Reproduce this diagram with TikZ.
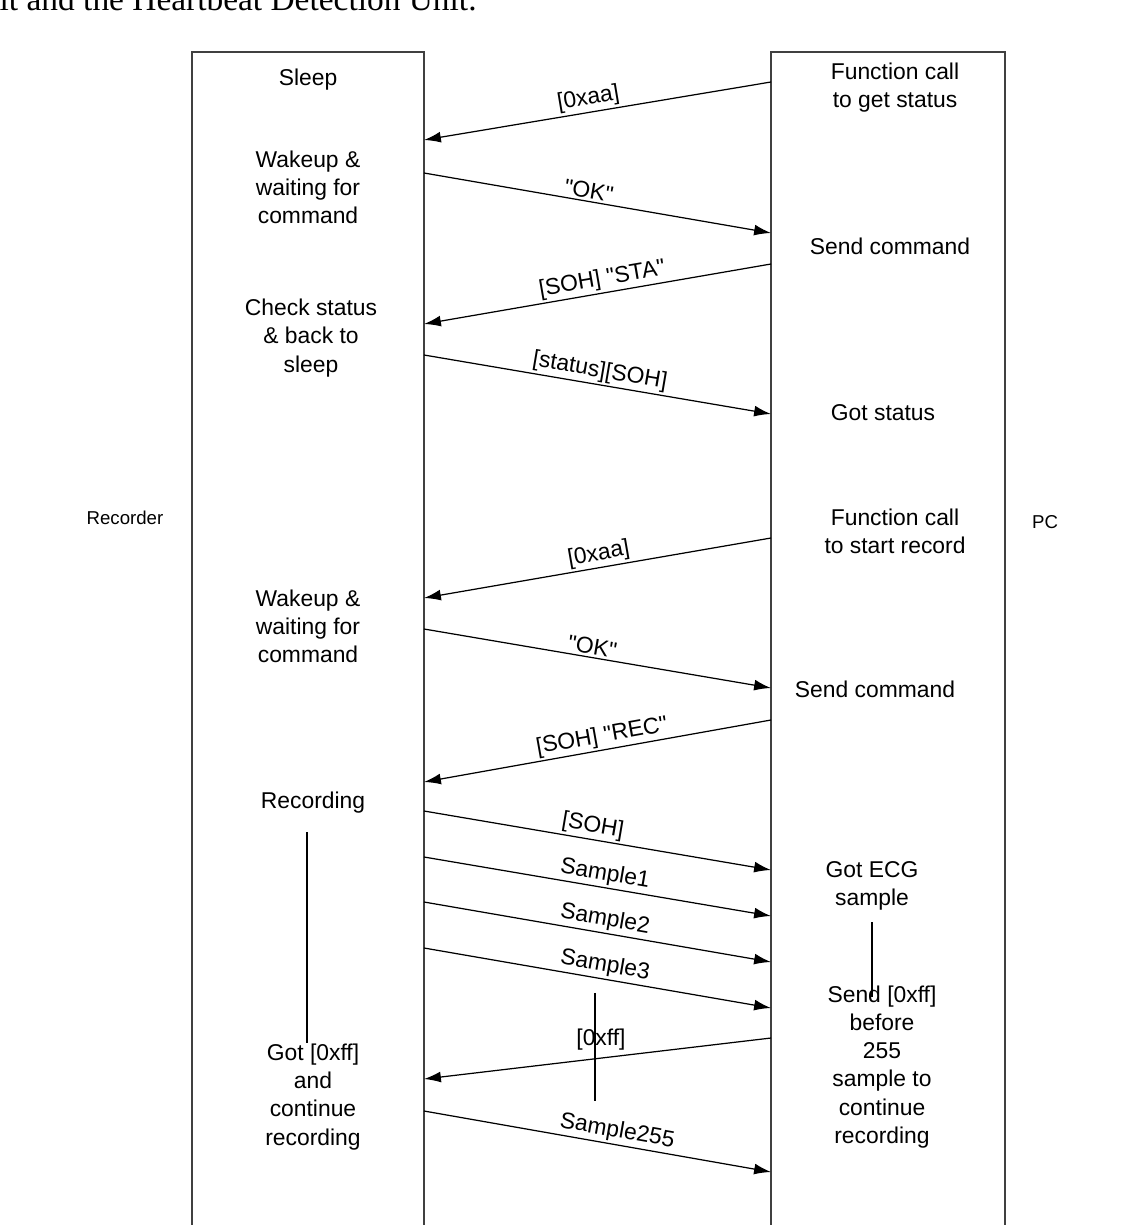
\documentclass[tikz,border=0pt]{standalone}
\usepackage{fontspec}
\setmainfont{Liberation Sans}
\newfontfamily\capfont{Liberation Serif}
\usetikzlibrary{arrows.meta}

\newcommand{\qt}[1]{\textquotedbl#1\textquotedbl}

\tikzset{
	life/.style={draw=black!75,line width=0.5pt},
	txt/.style={align=center,inner sep=0pt,font=\fontsize{6.5}{8}\selectfont},
	side/.style={inner sep=0pt,font=\fontsize{5.3}{6.5}\selectfont},
	msg/.style={-{Latex[length=4.8pt,width=3.1pt]},line width=0.35pt},
	lbl/.style={sloped,above,inner sep=0.6pt,font=\fontsize{6.5}{8}\selectfont},
	bar/.style={line width=0.35pt}
}

\begin{document}
\begin{tikzpicture}[x=0.01cm,y=-0.01cm]
	\useasboundingbox (0,0) rectangle (1145,1225);
	\clip (0,0) rectangle (1145,1225);
	\node[anchor=base west,inner sep=0pt,font=\capfont\fontsize{9.5}{11}\selectfont] (cap) at (-1,11) {it and the Heartbeat Detection Unit.};
	%%%%%%%%%%%%%%%
	\draw[life] (192,1260) -- (192,52) -- (424,52) -- (424,1260);
	\draw[life] (771,1260) -- (771,52) -- (1005,52) -- (1005,1260);
	\node[side] (rec) at (125,518) {Recorder};
	\node[side] (pc) at (1045,522) {PC};
	%%%%%%%%%%%%%%%
	\node[txt] (rt1) at (308,80) {Sleep};
	\node[txt] (rt2) at (308,187) {Wakeup \&\\waiting for\\command};
	\node[txt] (rt3) at (311,338) {Check status\\\& back to\\sleep};
	\node[txt] (rt4) at (308,626) {Wakeup \&\\waiting for\\command};
	\node[txt] (rt5) at (313,803) {Recording};
	\node[txt] (rt6) at (313,1097) {Got [0xff]\\and\\continue\\recording};
	%%%%%%%%%%%%%%%
	\node[txt] (ft1) at (895,88) {Function call\\to get status};
	\node[txt] (ft2) at (890,246) {Send command};
	\node[txt] (ft3) at (883,413) {Got status};
	\node[txt] (ft4) at (895,531) {Function call\\to start record};
	\node[txt] (ft5) at (875,689) {Send command};
	\node[txt] (ft6) at (872,886) {Got ECG\\sample};
	\node[txt] (ft7) at (882,1067) {Send [0xff]\\before\\255\\sample to\\continue\\recording};
	%%%%%%%%%%%%%%%
	\coordinate (p1) at (771,82);   \coordinate (r1) at (424,140);
	\coordinate (r2) at (424,173);  \coordinate (p2) at (771,233);
	\coordinate (p3) at (771,264);  \coordinate (r3) at (424,324);
	\coordinate (r4) at (424,355);  \coordinate (p4) at (771,414);
	\coordinate (p5) at (771,538);  \coordinate (r5) at (424,598);
	\coordinate (r6) at (424,629);  \coordinate (p6) at (771,688);
	\coordinate (p7) at (771,720);  \coordinate (r7) at (424,782);
	\coordinate (r8) at (424,811);  \coordinate (p8) at (771,870);
	\coordinate (r9) at (424,857);  \coordinate (p9) at (771,916);
	\coordinate (r10) at (424,902); \coordinate (p10) at (771,962);
	\coordinate (r11) at (424,948); \coordinate (p11) at (771,1008);
	\coordinate (p12) at (771,1038); \coordinate (r12) at (424,1079);
	\coordinate (r13) at (424,1111); \coordinate (p13) at (771,1172);
	%%%%%%%%%%%%%%%
	\draw[msg] (p1) -- (r1) node[lbl,pos=0.52] {[0xaa]};
	\draw[msg] (r2) -- (p2) node[lbl,pos=0.47] {\qt{OK}};
	\draw[msg] (p3) -- (r3) node[lbl,pos=0.48] {[SOH] \qt{STA}};
	\draw[msg] (r4) -- (p4) node[lbl,pos=0.5] {[status][SOH]};
	\draw[msg] (p5) -- (r5) node[lbl,pos=0.49] {[0xaa]};
	\draw[msg] (r6) -- (p6) node[lbl,pos=0.48] {\qt{OK}};
	\draw[msg] (p7) -- (r7) node[lbl,pos=0.48] {[SOH] \qt{REC}};
	\draw[msg] (r8) -- (p8) node[lbl,pos=0.48] {[SOH]};
	\draw[msg] (r9) -- (p9) node[lbl,pos=0.515] {Sample1};
	\draw[msg] (r10) -- (p10) node[lbl,pos=0.515] {Sample2};
	\draw[msg] (r11) -- (p11) node[lbl,pos=0.515] {Sample3};
	\draw[msg] (p12) -- (r12) node[pos=0.49,above=2pt,inner sep=0pt,font=\fontsize{6.5}{8}\selectfont] (ff) {[0xff]};
	\draw[msg] (r13) -- (p13) node[lbl,pos=0.55] {Sample255};
	%%%%%%%%%%%%%%%
	\draw[bar] (rt5.south) ++(-6,18) -- (rt6.north -| 307,0);
	\draw[bar] (ft6.south) ++(0,11) -- (ft6.south |- 0,997);
	\draw[bar] (ff.center) ++(-6,-47) -- ++(0,108);
\end{tikzpicture}
\end{document}
